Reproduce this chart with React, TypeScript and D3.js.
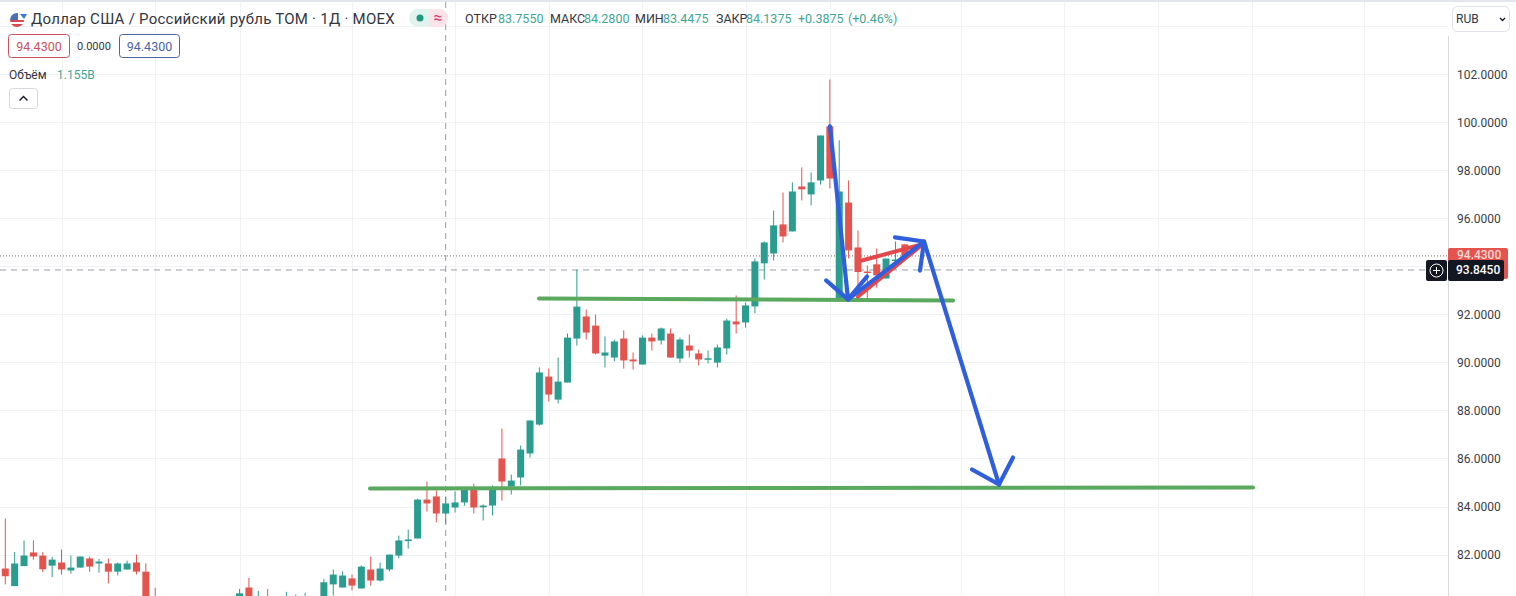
import React from "react";
import * as d3 from "d3";

const W = 1516;
const H = 596;

const opens = [81.42,80.69,81.52,82.09,81.96,81.54,81.67,81.34,81.46,81.84,81.63,81.63,81.29,81.38,81.67,81.29,80.2,79.6,79.5,79.4,79.5,79.6,79.5,79.6,79.7,80.0,80.63,79.9,80.2,79.9,79.9,80.0,80.0,80.2,80.0,80.76,80.63,81.01,80.59,81.38,80.92,81.38,81.96,82.56,82.67,84.29,84.42,83.71,83.96,84.17,84.71,83.97,84.04,86.0,84.83,85.21,86.21,87.41,89.41,88.45,89.16,90.99,91.91,91.53,90.28,90.20,90.99,90.12,89.91,91.03,90.91,91.20,90.16,90.70,90.37,90.12,89.99,90.58,91.70,91.66,92.33,94.12,94.53,95.74,95.45,97.32,96.99,97.57,99.82,92.62,96.65,94.78,93.78,94.08,93.49,94.24,94.91];
const highs = [83.5,82.11,82.59,82.59,82.11,81.91,82.21,81.96,81.92,81.92,81.82,81.84,81.67,81.75,82.0,81.63,80.62,79.9,79.8,79.7,79.8,79.9,79.8,79.9,80.0,80.57,81.03,80.49,80.57,80.1,80.45,80.34,80.41,80.28,80.99,81.38,81.3,81.17,81.55,81.92,81.67,82.0,82.79,83.04,84.33,85.04,84.67,84.42,84.63,84.78,84.96,84.09,84.88,87.25,85.33,86.54,87.58,89.79,89.74,90.2,91.2,93.86,92.2,91.99,91.08,90.95,91.33,90.41,91.12,91.2,91.45,91.41,91.03,91.16,90.53,90.49,90.74,91.82,92.78,92.49,94.32,95.03,96.32,97.07,97.49,98.11,97.9,99.44,101.77,99.24,97.57,95.49,94.03,94.74,94.32,95.03,94.91];
const lows = [80.76,80.69,81.52,81.79,81.27,81.06,81.17,81.21,81.46,81.29,81.25,80.8,81.13,81.38,81.17,79.2,79.5,79.2,79.1,79.1,79.2,79.2,79.2,79.3,79.4,79.8,79.8,79.7,79.7,79.7,79.7,79.8,79.8,79.9,79.8,80.3,80.63,80.51,80.59,80.71,80.88,81.3,81.84,82.25,82.67,83.79,83.34,83.29,83.75,84.04,83.71,83.42,83.63,84.25,84.5,84.88,86.04,87.37,88.37,88.29,89.16,90.7,90.95,90.33,89.79,90.04,89.74,89.7,89.91,90.49,90.74,90.2,89.99,90.2,89.87,89.95,89.79,90.33,91.2,91.45,92.04,93.45,94.24,94.99,95.45,96.74,96.53,97.4,97.24,92.62,94.32,93.17,92.62,93.11,93.49,93.87,94.4];
const closes = [81.1,81.63,81.96,81.92,81.39,81.79,81.38,81.46,81.92,81.5,81.71,81.29,81.63,81.63,81.29,79.5,79.8,79.4,79.3,79.5,79.6,79.5,79.6,79.7,80.0,80.39,80.0,80.2,79.9,79.8,80.2,80.2,80.2,80.0,80.85,81.17,81.13,80.71,81.5,80.92,81.42,82.0,82.59,82.63,84.29,84.13,83.71,84.13,84.17,84.71,83.96,84.04,84.71,85.04,85.08,86.37,87.58,89.58,88.66,89.2,91.03,92.32,91.24,90.37,90.41,90.87,90.08,90.04,91.03,90.87,91.41,90.2,90.95,90.49,90.12,90.17,90.62,91.74,91.58,92.37,94.2,94.99,95.7,95.24,97.11,97.2,97.49,99.44,97.65,97.11,94.66,93.76,93.74,93.62,94.32,94.28,94.43];

const priceTicks = [102,100,98,96,94,92,90,88,86,84,82];
const gridPrices = [104,...priceTicks];
const gridBars = [6,16,25,37,48,58,68,79,88,102,113,123,133,145];

const lastPrice = 94.43;
const crossPrice = 93.845;
const crossBar = 47;

type Pt = [number, number];
const supportLines: Pt[][] = [
  [[56.96,92.66],[101.15,92.57]],
  [[38.92,84.75],[133.16,84.79]],
];
const redStrokes: Pt[][] = [
  [[91.0,92.74],[97.62,94.82]],
  [[91.43,94.24],[97.3,94.86]],
];
const blueStrokes: Pt[][] = [
  [[88.01,99.82],[89.94,92.62],[98.05,95.03],[106.05,84.92]],
  [[87.6,93.41],[89.94,92.62],[91.96,93.57]],
  [[94.95,95.2],[98.05,95.03],[97.62,93.82]],
  [[103.17,85.54],[106.05,84.92],[107.55,86.04]],
];

const x = d3.scaleLinear().domain([0, 100]).range([5.3, 942.3]);
const y = d3.scaleLinear().domain([102, 82]).range([74, 554.6]);
const stroke = d3.line<Pt>().x(d => x(d[0])).y(d => y(d[1]));
const fmt = d3.format(".4f");

const UP = "#2a9d90";
const DOWN = "#e5534f";
const TEXT_UP = "#3fa796";
const GRID = "#f1f2f4";
const FONT = "Roboto, 'Noto Sans', sans-serif";
const INK = "#33363f";

const ohlc: { t: string; x: number; c: string }[] = [
  { t: "ОТКР", x: 465, c: INK }, { t: "83.7550", x: 498, c: TEXT_UP },
  { t: "МАКС", x: 550, c: INK }, { t: "84.2800", x: 584, c: TEXT_UP },
  { t: "МИН", x: 635, c: INK }, { t: "83.4475", x: 663, c: TEXT_UP },
  { t: "ЗАКР", x: 716, c: INK }, { t: "84.1375", x: 746, c: TEXT_UP },
  { t: "+0.3875", x: 798, c: TEXT_UP }, { t: "(+0.46%)", x: 848, c: TEXT_UP },
];

export default function App() {
  const axisX = 1448;
  return (
    <svg width={W} height={H} viewBox={`0 0 ${W} ${H}`} fontFamily={FONT}
      style={{ position: "absolute", left: 0, top: 0, background: "#fff", display: "block" }}>
      <defs>
        <clipPath id="flag"><circle cx={17} cy={20} r={7} /></clipPath>
        <clipPath id="plot"><rect x={0} y={0} width={axisX} height={H} /></clipPath>
      </defs>
      <rect x={0} y={0} width={W} height={2} fill="#e4e6ee" />

      <g stroke={GRID} strokeWidth={1}>
        {gridPrices.map(p => <line key={p} x1={0} x2={axisX} y1={Math.round(y(p)) + 0.5} y2={Math.round(y(p)) + 0.5} />)}
        {gridBars.map(b => <line key={b} x1={Math.round(x(b)) + 0.5} x2={Math.round(x(b)) + 0.5} y1={2} y2={H} />)}
      </g>

      <line x1={0} x2={axisX} y1={y(lastPrice)} y2={y(lastPrice)} stroke="#77686a" strokeDasharray="1 2" />
      <line x1={0} x2={1426} y1={y(crossPrice)} y2={y(crossPrice)} stroke="#9a9ca3" strokeDasharray="6 5" />
      <line x1={x(crossBar)} x2={x(crossBar)} y1={2} y2={H} stroke="#9a9ca3" strokeDasharray="6 5" />

      <g clipPath="url(#plot)">
        {opens.map((o, i) => {
          const c = closes[i];
          const col = c >= o ? UP : DOWN;
          const top = y(Math.max(o, c));
          const bottom = y(Math.min(o, c));
          const cx = x(i);
          return (
            <g key={i}>
              <line x1={cx} x2={cx} y1={y(highs[i])} y2={y(lows[i])} stroke={col} strokeWidth={1} />
              <rect x={cx - 3.5} width={7} y={top} height={Math.max(bottom - top, 1.5)} fill={col} />
            </g>
          );
        })}
      </g>

      <g fill="none" strokeLinecap="round" strokeLinejoin="round">
        {supportLines.map((d, i) => <path key={i} d={stroke(d)!} stroke="#5aa95e" strokeWidth={4} />)}
        {redStrokes.map((d, i) => <path key={i} d={stroke(d)!} stroke="#e2474b" strokeWidth={4} />)}
        {blueStrokes.map((d, i) => <path key={i} d={stroke(d)!} stroke="#2f5fdc" strokeWidth={4.2} />)}
      </g>

      {/* Header */}
      <g clipPath="url(#flag)">
        <rect x={9} y={12} width={18} height={16} fill="#fff" />
        <rect x={9} y={20} width={18} height={2} fill="#d8484f" />
        <rect x={9} y={24} width={18} height={4} fill="#d8484f" />
        <rect x={9} y={13} width={9} height={7} fill="#4a6fb5" />
      </g>
      <path d="M20 14 L27 14 L24 19 Z" fill="#3a7bd0" />
      <text x={31} y={24} fontSize={15} letterSpacing={0.25} fill={INK}>Доллар США / Российский рубль ТОМ · 1Д · MOEX</text>

      <rect x={409} y={9} width={39} height={18} rx={9} fill="#e0f3ef" />
      <path d="M429 9 H439 A9 9 0 0 1 439 27 H429 Z" fill="#fbe3ea" />
      <circle cx={420} cy={18} r={3.5} fill="#1f9a80" />
      <text x={438} y={23} fontSize={16} textAnchor="middle" fill="#d9396f">≈</text>

      <g fontSize={12.5}>
        {ohlc.map(d => <text key={d.t} x={d.x} y={23} fill={d.c}>{d.t}</text>)}
      </g>

      <rect x={8.5} y={34.5} width={61} height={23} rx={3} fill="#fff" stroke="#c9515c" />
      <text x={39} y={51} fontSize={12.5} textAnchor="middle" fill="#c9515c">94.4300</text>
      <text x={94} y={50} fontSize={11} textAnchor="middle" fill={INK}>0.0000</text>
      <rect x={119.5} y={34.5} width={60} height={23} rx={3} fill="#fff" stroke="#4a64a8" />
      <text x={149.5} y={51} fontSize={12.5} textAnchor="middle" fill="#4a64a8">94.4300</text>

      <text x={9} y={79} fontSize={12} fill={INK}>Объём</text>
      <text x={57} y={79} fontSize={12} fill={TEXT_UP}>1.155B</text>

      <rect x={9.5} y={88.5} width={28} height={20} rx={3} fill="#fff" stroke="#d6d8de" />
      <path d="M19.5 100.5 L23.5 96.5 L27.5 100.5" fill="none" stroke="#131722" strokeWidth={1.4} />

      {/* Price axis */}
      <line x1={axisX + 0.5} x2={axisX + 0.5} y1={36} y2={H} stroke="#d9dbe0" />
      <g fontSize={12} fill="#3a3d46">
        {priceTicks.map(p => <text key={p} x={1457} y={y(p) + 4.5}>{fmt(p)}</text>)}
      </g>

      <rect x={1448} y={248} width={60} height={31} rx={2} fill={DOWN} />
      <text x={1457} y={y(lastPrice) + 3} fontSize={12} fontWeight={500} fill="#f8d9d8">{fmt(lastPrice)}</text>
      <rect x={1426} y={260} width={21} height={21} rx={2} fill="#131722" />
      <rect x={1448} y={260} width={56} height={21} rx={2} fill="#131722" />
      <circle cx={1436.5} cy={270.5} r={6.5} fill="none" stroke="#fff" />
      <path d="M1433 270.5 H1440 M1436.5 267 V274" stroke="#fff" />
      <text x={1456} y={y(crossPrice) + 4.5} fontSize={12} fontWeight={500} fill="#fff">{fmt(crossPrice)}</text>

      <rect x={1452.5} y={6.5} width={57} height={25} rx={5} fill="#fff" stroke="#e0e3eb" />
      <text x={1456} y={23} fontSize={12} fill={INK}>RUB</text>
      <path d="M1500 18 L1502.5 20.5 L1505 18" fill="none" stroke="#131722" strokeWidth={1.3} />
    </svg>
  );
}
